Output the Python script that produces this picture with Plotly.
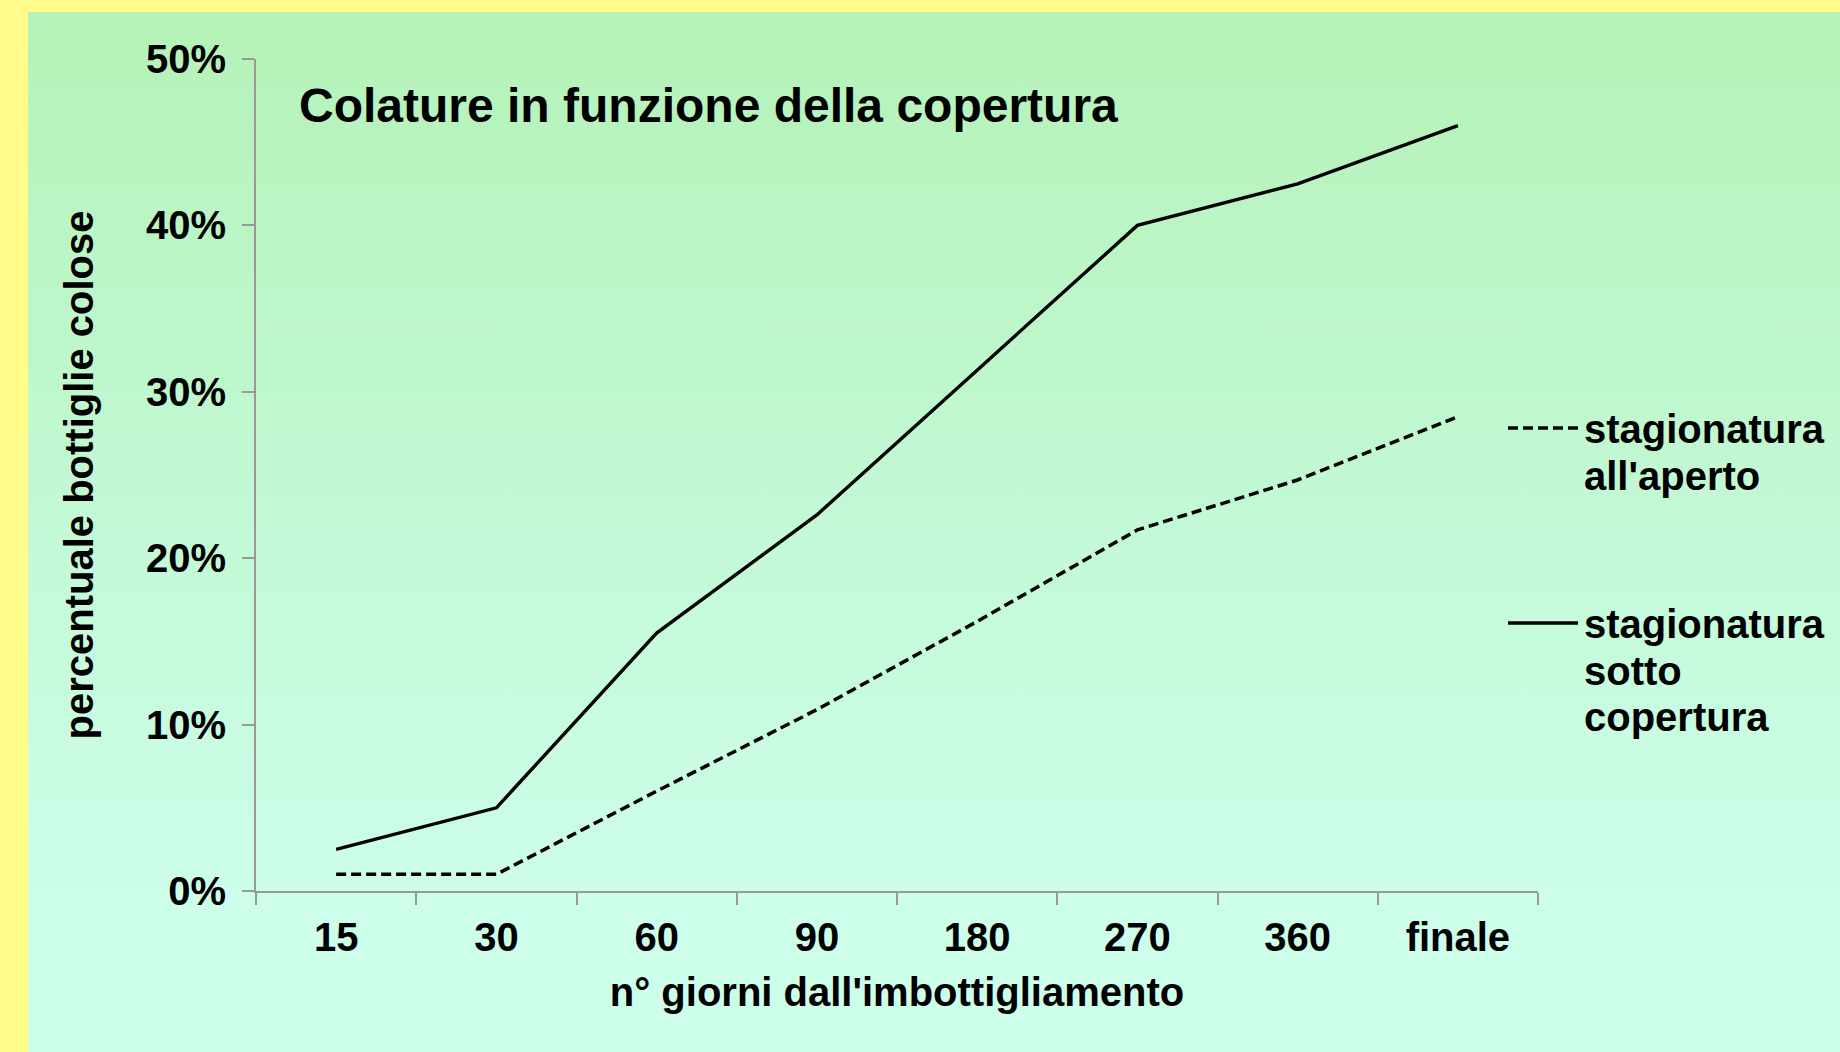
import base64
import plotly.graph_objects as go

# ---- data ----
categories = ["15", "30", "60", "90", "180", "270", "360", "finale"]
aperto = [0.010, 0.010, 0.060, 0.109, 0.162, 0.217, 0.247, 0.285]
copertura = [0.025, 0.050, 0.155, 0.226, 0.313, 0.400, 0.425, 0.460]
y_ticks = [0, 0.1, 0.2, 0.3, 0.4, 0.5]
y_tick_labels = ["0%", "10%", "20%", "30%", "40%", "50%"]
series_names = ["stagionatura all'aperto", "stagionatura sotto copertura"]

W, H = 1840, 1052
L, R, T, B = 256, 1538, 59, 891  # plot area in pixels

def px(x):
    return (x - L) / (R - L)

def py(y):
    return (B - y) / (B - T)

FONT = "Liberation Sans, Arial, Helvetica, sans-serif"

fig = go.Figure()
fig.add_trace(go.Scatter(x=categories, y=aperto, mode="lines", name=series_names[0],
                         line=dict(color="black", width=3.5, dash="10px,5px"),
                         showlegend=False))
fig.add_trace(go.Scatter(x=categories, y=copertura, mode="lines", name=series_names[1],
                         line=dict(color="black", width=3.4),
                         showlegend=False))

svg = ("<svg xmlns='http://www.w3.org/2000/svg' width='1812' height='1040' preserveAspectRatio='none'>"
       "<defs><linearGradient id='g' x1='0' y1='0' x2='0' y2='1'>"
       "<stop offset='0' stop-color='#B5F2B7'/>"
       "<stop offset='0.5' stop-color='#C3F9D6'/>"
       "<stop offset='0.85' stop-color='#CDFEEA'/>"
       "<stop offset='1' stop-color='#CDFEEA'/>"
       "</linearGradient></defs>"
       "<rect width='1812' height='1040' fill='url(#g)'/></svg>")
src = "data:image/svg+xml;base64," + base64.b64encode(svg.encode()).decode()

gx0, gy0 = 28, 12
fig.add_layout_image(dict(source=src, xref="paper", yref="paper",
                          x=px(gx0), y=py(gy0),
                          sizex=px(W) - px(gx0), sizey=py(gy0) - py(H),
                          xanchor="left", yanchor="top", sizing="stretch",
                          layer="below"))

# title
annotations = [dict(text="Colature in funzione della copertura", xref="paper", yref="paper",
                    x=px(297), y=py(106), xanchor="left", yanchor="middle", showarrow=False,
                    font=dict(family=FONT, size=48, color="black", weight="bold"))]

# manual legend
legend_lines = [
    (428, ["stagionatura", "all'aperto"], "10px,5px"),
    (623, ["stagionatura", "sotto", "copertura"], "solid"),
]
shapes = []
for y0, lines, dash in legend_lines:
    shapes.append(dict(type="line", xref="paper", yref="paper",
                       x0=px(1508), x1=px(1578), y0=py(y0), y1=py(y0),
                       line=dict(color="black", width=3.4, dash=dash)))
    for i, t in enumerate(lines):
        annotations.append(dict(text=t, xref="paper", yref="paper",
                                x=px(1582), y=py(y0 + i * 46.5 + 1), xanchor="left", yanchor="middle",
                                showarrow=False,
                                font=dict(family=FONT, size=40, color="black", weight="bold")))

fig.update_layout(
    width=W, height=H,
    margin=dict(l=L, r=W - R, t=T, b=H - B, autoexpand=False),
    paper_bgcolor="#FFFC8A",
    plot_bgcolor="rgba(0,0,0,0)",
    font=dict(family=FONT, size=40, color="black", weight="bold"),
    annotations=annotations,
    shapes=shapes,
    showlegend=False,
)
fig.update_xaxes(
    type="category", range=[-0.5, len(categories) - 0.5],
    showline=True, linecolor="#999999", linewidth=2,
    ticks="outside", tickson="boundaries", ticklen=12, tickcolor="#999999", tickwidth=2,
    showgrid=False, zeroline=False,
    tickfont=dict(family=FONT, size=40, color="black", weight="bold"),
    ticklabelstandoff=10,
    title=dict(text="n° giorni dall'imbottigliamento", standoff=20,
               font=dict(family=FONT, size=40, color="black", weight="bold")),
    automargin=False,
)
fig.update_yaxes(
    range=[0, 0.5], tickvals=y_ticks, ticktext=y_tick_labels,
    showline=True, linecolor="#999999", linewidth=2,
    ticks="outside", ticklen=12, tickcolor="#999999", tickwidth=2,
    showgrid=False, zeroline=False,
    tickfont=dict(family=FONT, size=40, color="black", weight="bold"),
    ticklabelstandoff=8,
    title=dict(text="percentuale bottiglie colose", standoff=40,
               font=dict(family=FONT, size=40, color="black", weight="bold")),
    automargin=False,
)

fig.write_html("out.html",
               config={"displayModeBar": False},
               post_script="document.body.style.margin='0';document.body.style.overflow='hidden';")
